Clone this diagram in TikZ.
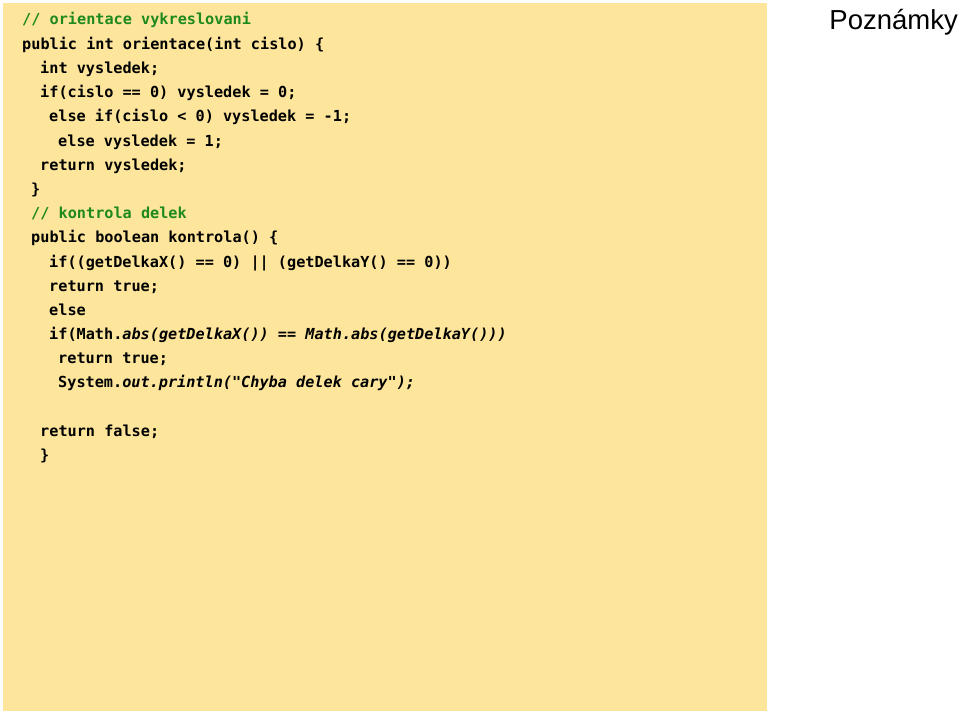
\documentclass[tikz,border=0pt]{standalone}
\usepackage{fontspec}
\setmainfont{Liberation Sans}
\newfontfamily\codefont{DejaVu Sans Mono}
\definecolor{bgy}{HTML}{FDE59B}
\definecolor{cmt}{HTML}{1E8A1E}
\begin{document}
\begin{tikzpicture}[x=1pt,y=-1pt,
  code/.style={anchor=base west,inner sep=0pt,font=\codefont\bfseries\fontsize{15.2}{18}\selectfont}]
\useasboundingbox (0,0) rectangle (960,716);
\fill[white] (0,0) rectangle (960,716);
\fill[bgy] (3,3) rectangle (767,711);
\node[code,text=cmt] (l1) at (22,24) {// orientace vykreslovani};
\node[code] (l2) at (22,49) {public int orientace(int cislo) \{};
\node[code] (l3) at (40,73) {int vysledek;};
\node[code] (l4) at (40,97) {if(cislo == 0) vysledek = 0;};
\node[code] (l5) at (49,121) {else if(cislo < 0) vysledek = -1;};
\node[code] (l6) at (58,146) {else vysledek = 1;};
\node[code] (l7) at (40,170) {return vysledek;};
\node[code] (l8) at (31,194) {\}};
\node[code,text=cmt] (l9) at (31,218) {// kontrola delek};
\node[code] (l10) at (31,242) {public boolean kontrola() \{};
\node[code] (l11) at (49,267) {if((getDelkaX() == 0) || (getDelkaY() == 0))};
\node[code] (l12) at (49,291) {return true;};
\node[code] (l13) at (49,315) {else};
\node[code] (l14) at (49,339) {if(Math.\textit{abs(getDelkaX()) == Math.abs(getDelkaY()))}};
\node[code] (l15) at (58,363) {return true;};
\node[code] (l16) at (58,387) {System.\textit{out.println("Chyba delek cary");}};
\node[code] (l17) at (40,436) {return false;};
\node[code] (l18) at (40,460) {\}};
\node[anchor=base east,inner sep=0pt,font=\fontsize{27.5}{30}\selectfont] (title) at (958,29) {Poznámky};
\end{tikzpicture}
\end{document}
